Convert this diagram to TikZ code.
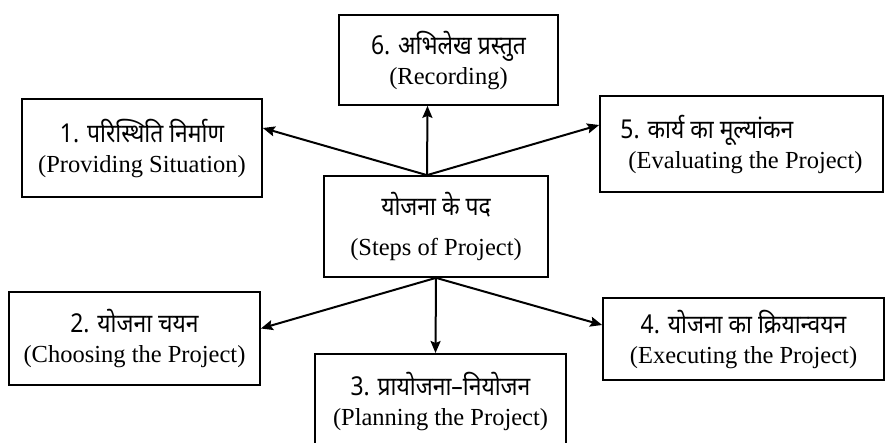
\documentclass[tikz,border=0pt]{standalone}
\usepackage{fontspec}
\setmainfont{Liberation Serif}
\newfontfamily\hindifont[Script=Devanagari,FakeStretch=0.88]{Noto Sans}
\newcommand\hin[1]{{\hindifont\fontsize{26}{30}\selectfont #1}}
\usetikzlibrary{arrows.meta}
\begin{document}
\begin{tikzpicture}[x=1pt,y=-1pt,
  stepbox/.style={draw=black,line width=1.7pt,inner sep=0pt,align=center,
    font=\fontsize{24.5}{30}\selectfont},
  link/.style={line width=2pt,-{Stealth[length=12pt,width=10pt,inset=2pt]}}]
\useasboundingbox (0,0) rectangle (885,442);
\clip (0,0) rectangle (885,442);
\fill[white] (0,0) rectangle (885,442);

% central node
\node[stepbox,minimum width=224pt,minimum height=101pt,
  font=\fontsize{24.5}{40}\selectfont] (c) at (436,226.5)
  {\hin{योजना के पद}\\(Steps of Project)};

% the six steps
\node[stepbox,minimum width=240pt,minimum height=98pt] (b1) at (142,148)
  {\hin{1. परिस्थिति निर्माण}\\(Providing Situation)};
\node[stepbox,minimum width=251pt,minimum height=93pt] (b2) at (134.5,338.5)
  {\hin{2. योजना चयन}\\(Choosing the Project)};
\node[stepbox,minimum width=251pt,minimum height=95pt,anchor=north] (b3) at (440.5,353)
  {\hin{3. प्रायोजना–नियोजन}\\(Planning the Project)};
\node[stepbox,minimum width=281pt,minimum height=82pt] (b4) at (743.5,339)
  {\hin{4. योजना का क्रियान्वयन}\\(Executing the Project)};
\node[stepbox,minimum width=283pt,minimum height=96pt,align=left] (b5) at (741.5,144)
  {\hin{5. कार्य का मूल्यांकन}\\\hspace*{8pt}(Evaluating the Project)};
\node[stepbox,minimum width=219pt,minimum height=90pt] (b6) at (448.5,60)
  {\hin{6. अभिलेख प्रस्तुत}\\(Recording)};

% connectors
\coordinate (ctop) at ([xshift=-9pt]c.north);
\coordinate (cbot) at (c.south);
\draw[link] (ctop) -- ([yshift=20pt]b1.east);
\draw[link] (ctop) -- ([xshift=-21pt]b6.south);
\draw[link] (ctop) -- ([yshift=19pt]b5.west);
\draw[link] (cbot) -- ([yshift=10pt]b2.east);
\draw[link] (cbot) -- ([xshift=-5pt]b3.north);
\draw[link] (cbot) -- ([yshift=14pt]b4.west);
\end{tikzpicture}
\end{document}
